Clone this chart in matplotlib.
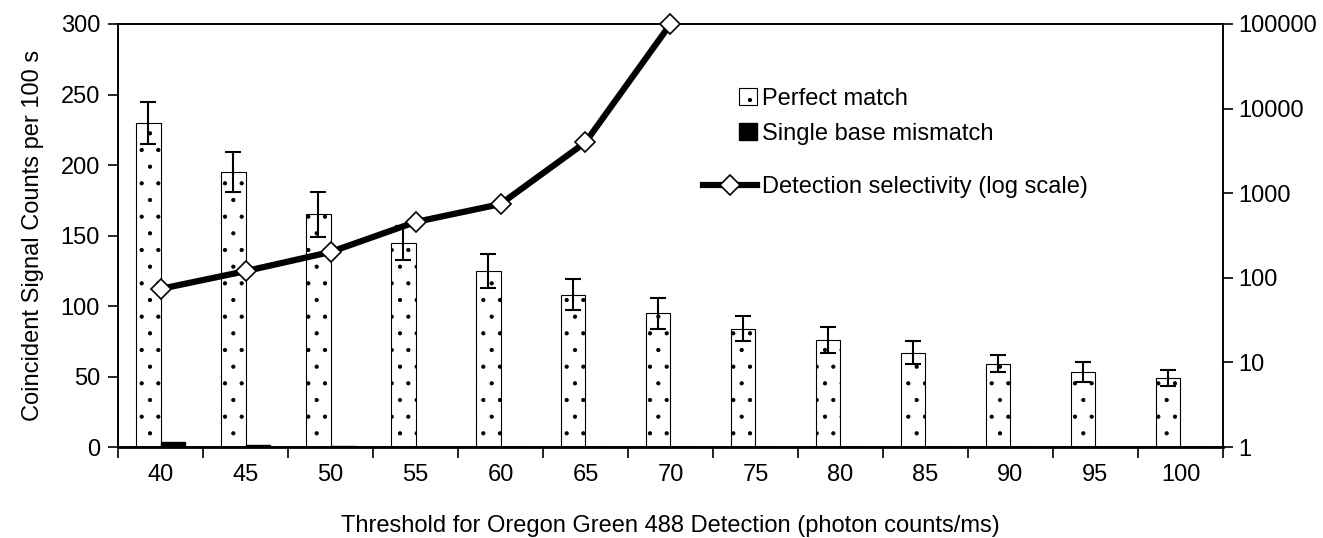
import matplotlib.pyplot as plt
import numpy as np
import matplotlib.patches as mpatches
from matplotlib.legend_handler import HandlerPatch
from matplotlib.ticker import FixedLocator, NullFormatter, FuncFormatter

plt.rcParams['font.family'] = ['Liberation Sans', 'DejaVu Sans']
plt.rcParams['hatch.linewidth'] = 0.6

thresholds = [40, 45, 50, 55, 60, 65, 70, 75, 80, 85, 90, 95, 100]
perfect = [230, 195, 165, 145, 125, 108, 95, 84, 76, 67, 59, 53, 49]
perfect_err = [15, 14, 16, 12, 12, 11, 11, 9, 9, 8, 6, 7, 6]
mismatch = [3.5, 1.5, 0.6, 0, 0, 0, 0, 0, 0, 0, 0, 0, 0]
selectivity = [74, 120, 202, 457, 744, 4000, 100000]

FS = 17


def square_patch(legend, orig_handle, xdescent, ydescent, width, height, fontsize):
    # small square at the right end of the handle box
    s = height * 1.1
    return mpatches.Rectangle((width - s - xdescent, -ydescent + (height - s) / 2), s, s)


fig = plt.figure(figsize=(13.23, 5.38), dpi=100)
ax = fig.add_axes([0.0892, 0.169, 0.8352, 0.7864])
x = np.arange(len(thresholds))
w = 0.29

b1 = ax.bar(x - w / 2, perfect, w, color='white', edgecolor='black', hatch='.',
            linewidth=0.8, label='Perfect match', zorder=2)
ax.errorbar(x - w / 2, perfect, yerr=perfect_err, fmt='none', ecolor='black',
            elinewidth=1.5, capsize=5.5, capthick=1.5, zorder=3)
b2 = ax.bar(x + w / 2, mismatch, w, color='black', edgecolor='black',
            label='Single base mismatch', zorder=2)

ax.set_xlim(-0.5, len(thresholds) - 0.5)
ax.set_ylim(0, 300)
ax.set_yticks(range(0, 301, 50))
ax.set_xticks(x)
ax.set_xticklabels([str(t) for t in thresholds])
ax.xaxis.set_minor_locator(FixedLocator(np.arange(-0.5, len(thresholds), 1)))
ax.tick_params(axis='x', which='major', length=0, pad=12, labelsize=FS)
ax.tick_params(axis='x', which='minor', length=8, width=1.2)
ax.tick_params(axis='y', length=7, width=1.2, labelsize=FS, pad=6)
for s in ax.spines.values():
    s.set_linewidth(1.2)
ax.spines['bottom'].set_linewidth(2)
ax.set_ylabel('Coincident Signal Counts per 100 s', fontsize=FS, labelpad=12)
ax.set_xlabel('Threshold for Oregon Green 488 Detection (photon counts/ms)',
              fontsize=FS, labelpad=21)

ax2 = ax.twinx()
ax2.set_yscale('log')
ax2.set_ylim(1, 100000)
ln, = ax2.plot(x[:len(selectivity)], selectivity, color='black', linewidth=4.5,
               marker='D', markersize=10.5, markerfacecolor='white',
               markeredgecolor='black', markeredgewidth=1.2, clip_on=False,
               label='Detection selectivity (log scale)', zorder=5)
ax2.yaxis.set_major_formatter(FuncFormatter(lambda v, p: '%d' % v))
ax2.yaxis.set_minor_formatter(NullFormatter())
ax2.tick_params(axis='y', which='minor', length=0)
ax2.tick_params(axis='y', which='major', length=7, width=1.2, labelsize=FS, pad=4)
for s in ax2.spines.values():
    s.set_linewidth(1.2)

leg1 = ax2.legend([b1, b2], ['Perfect match', 'Single base mismatch'],
                  loc='upper left', bbox_to_anchor=(0.553, 0.872), frameon=False,
                  fontsize=FS, handlelength=0.8, handletextpad=0.2,
                  labelspacing=0.55, borderaxespad=0,
                  handler_map={mpatches.Rectangle: HandlerPatch(patch_func=square_patch)})
ax2.add_artist(leg1)
ax2.legend([ln], ['Detection selectivity (log scale)'], loc='upper left',
           bbox_to_anchor=(0.5206, 0.663), frameon=False, fontsize=FS,
           handlelength=2.3, handletextpad=0.2, borderaxespad=0)

fig.savefig('out.png', dpi=100)
